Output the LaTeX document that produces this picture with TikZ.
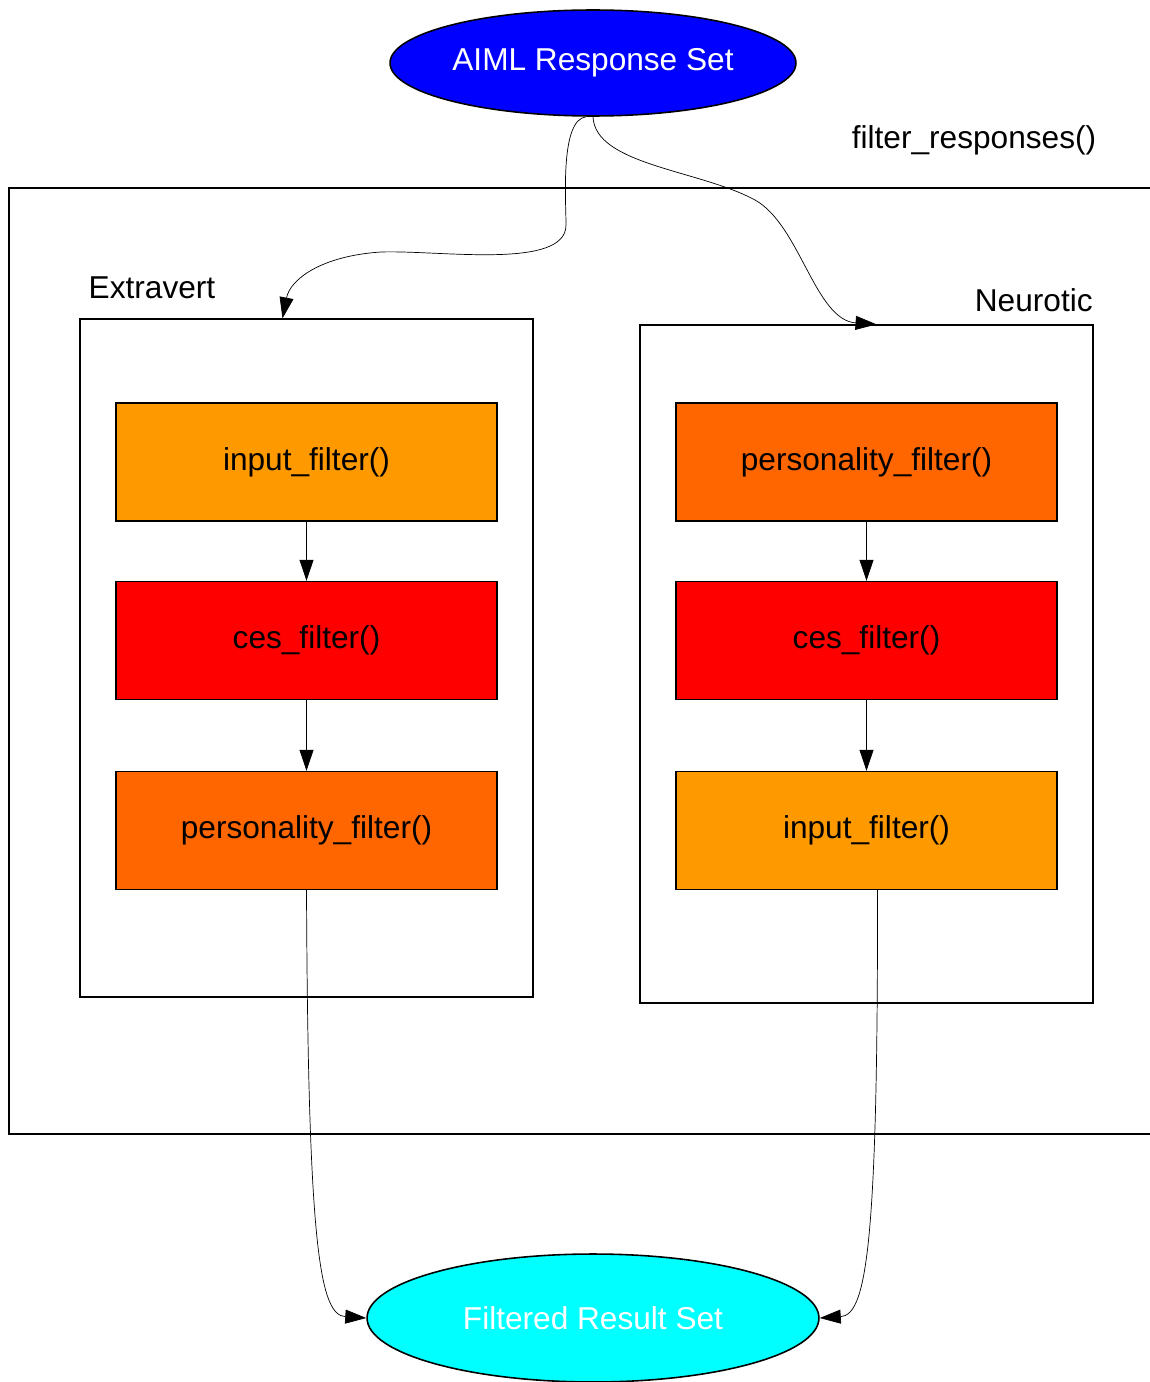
\documentclass[tikz,border=0pt]{standalone}
\usepackage{fontspec}
\setmainfont{Liberation Sans}
\usetikzlibrary{positioning,shapes.geometric,arrows.meta}

\definecolor{inputcol}{HTML}{FF9900}
\definecolor{cescol}{HTML}{FF0000}
\definecolor{perscol}{HTML}{FF6600}
\definecolor{aimlcol}{HTML}{0000FF}
\definecolor{resultcol}{HTML}{00FFFF}

\begin{document}
\begin{tikzpicture}[x=0.02cm,y=-0.02cm,
    setnode/.style={ellipse,draw,line width=0.9pt,text=white,font=\fontsize{18}{20}\selectfont,inner sep=0pt},
    groupbox/.style={draw,line width=0.8pt,minimum width=9.06cm,minimum height=13.56cm},
    filterbox/.style={draw,line width=0.8pt,minimum width=7.62cm,minimum height=2.36cm,font=\fontsize{18}{20}\selectfont},
    lbl/.style={font=\fontsize{18}{20}\selectfont,inner sep=0pt},
    flow/.style={-{Triangle[length=0.42cm,width=0.28cm]},line width=0.4pt}]

    \useasboundingbox (0,0) rectangle (1149,1382);

    \node[setnode,fill=aimlcol,minimum width=8.12cm,minimum height=2.12cm] (aiml) at (593,63) {AIML Response Set};
    \node[setnode,fill=resultcol,minimum width=9.04cm,minimum height=2.56cm] (result) at (593,1318) {Filtered Result Set};

    \draw[line width=0.8pt] (1160,188) -| (9,1134) -- (1160,1134);
    \node[lbl] (fresp) at (974,140) {filter\_responses()};

    \node[groupbox] (extra) at (306.5,658) {};
    \node[groupbox] (neuro) at (866.5,664) {};
    \node[lbl] (extralbl) at (152,288) {Extravert};
    \node[lbl,anchor=east] (neurolbl) at (1093,300) {Neurotic};

    \node[filterbox,fill=inputcol] (ein) at (306.5,462) {input\_filter()};
    \node[filterbox,fill=cescol] (eces) at (306.5,640.5) {ces\_filter()};
    \node[filterbox,fill=perscol] (eper) at (306.5,830.5) {personality\_filter()};

    \node[filterbox,fill=perscol] (nper) at (866.5,462) {personality\_filter()};
    \node[filterbox,fill=cescol] (nces) at (866.5,640.5) {ces\_filter()};
    \node[filterbox,fill=inputcol] (nin) at (866.5,830.5) {input\_filter()};

    \draw[flow] (ein) -- (eces);
    \draw[flow] (eces) -- (eper);
    \draw[flow] (nper) -- (nces);
    \draw[flow] (nces) -- (nin);

    \draw[flow] ([xshift=-0.14cm]aiml.south) .. controls (560,120) and (566,200) .. (566,225)
        .. controls (566,270) and (440,250) .. (381,252)
        .. controls (320,256) and (290,280) .. ([xshift=-0.48cm]extra.north);
    \draw[flow] (aiml.south) .. controls (595,165) and (700,170) .. (755,200)
        .. controls (800,225) and (815,320) .. ([xshift=0.2cm]neuro.north);

    \draw[flow] (eper.south) .. controls (308,1250) and (320,1315) .. (result.west);
    \draw[flow] ([xshift=0.22cm]nin.south) .. controls (878,1250) and (866,1315) .. (result.east);

\end{tikzpicture}
\end{document}
